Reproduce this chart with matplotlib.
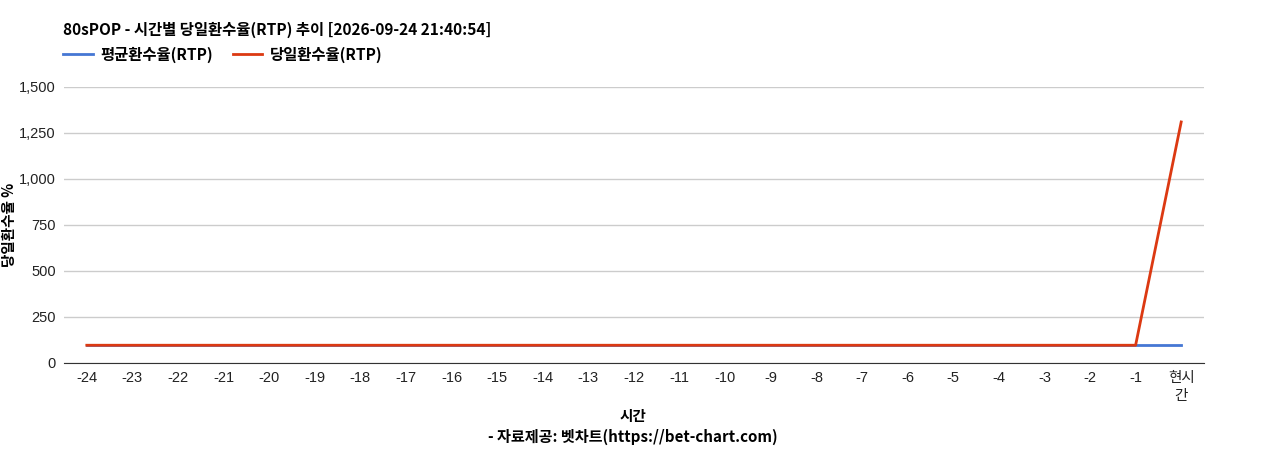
import matplotlib.pyplot as plt
from matplotlib.ticker import FuncFormatter

plt.rcParams['font.family'] = ['Liberation Sans', 'Noto Sans CJK KR']

# data
hours = [str(h) for h in range(-24, 0)] + ["현시\n간"]
avg_rtp = [96.5] * 25
daily_rtp = [96.5] * 24 + [1310]

title = "80sPOP - 시간별 당일환수율(RTP) 추이 [2026-09-24 21:40:54]"
bold_fam = ['Noto Sans CJK KR', 'DejaVu Sans']

fig = plt.figure(figsize=(12.68, 4.5), dpi=100)
ax = fig.add_axes([64 / 1268, 87 / 450, 1140 / 1268, 276 / 450])

x = list(range(len(hours)))
ax.plot(x, avg_rtp, color="#4577d4", lw=2, label="평균환수율(RTP)")
ax.plot(x, daily_rtp, color="#dc3912", lw=2, label="당일환수율(RTP)")

ax.set_xlim(-0.5, len(hours) - 0.5)
ax.set_ylim(0, 1500)
ax.set_yticks(range(0, 1501, 250))
ax.yaxis.set_major_formatter(FuncFormatter(lambda v, p: f"{int(v):,}"))
ax.set_xticks(x)
ax.set_xticklabels(hours, linespacing=1.35)
ax.grid(axis="y", color="#cccccc", lw=1)
ax.set_axisbelow(True)
for s in ["top", "right", "left"]:
    ax.spines[s].set_visible(False)
ax.spines["bottom"].set_color("#333333")
ax.tick_params(axis="both", length=0, labelsize=10.5, colors="#222222", pad=6)

ax.set_ylabel("당일환수율 %", fontsize=10.5, fontweight="bold", family=bold_fam, va="center")
ax.yaxis.set_label_coords((9 - 64) / 1140, 0.5)
fig.text(633 / 1268, 1 - 416 / 450, "시간", ha="center", va="center", fontsize=10.5,
         fontweight="bold", family=bold_fam)
fig.text(633 / 1268, 1 - 437 / 450, "- 자료제공: 벳차트(https://bet-chart.com)", ha="center", va="center",
         fontsize=10.9, fontweight="bold", family=bold_fam)
fig.text(63 / 1268, 1 - 30 / 450, title, ha="left", va="center", fontsize=11.1,
         fontweight="bold", family=bold_fam)

ax.legend(loc="lower left", bbox_to_anchor=(-0.006, 1.065), ncol=2, frameon=False,
          prop={"weight": "bold", "size": 11.1, "family": bold_fam}, handlelength=1.9,
          columnspacing=1.3, borderaxespad=0, handletextpad=0.5)

fig.savefig("out.png", dpi=100)
